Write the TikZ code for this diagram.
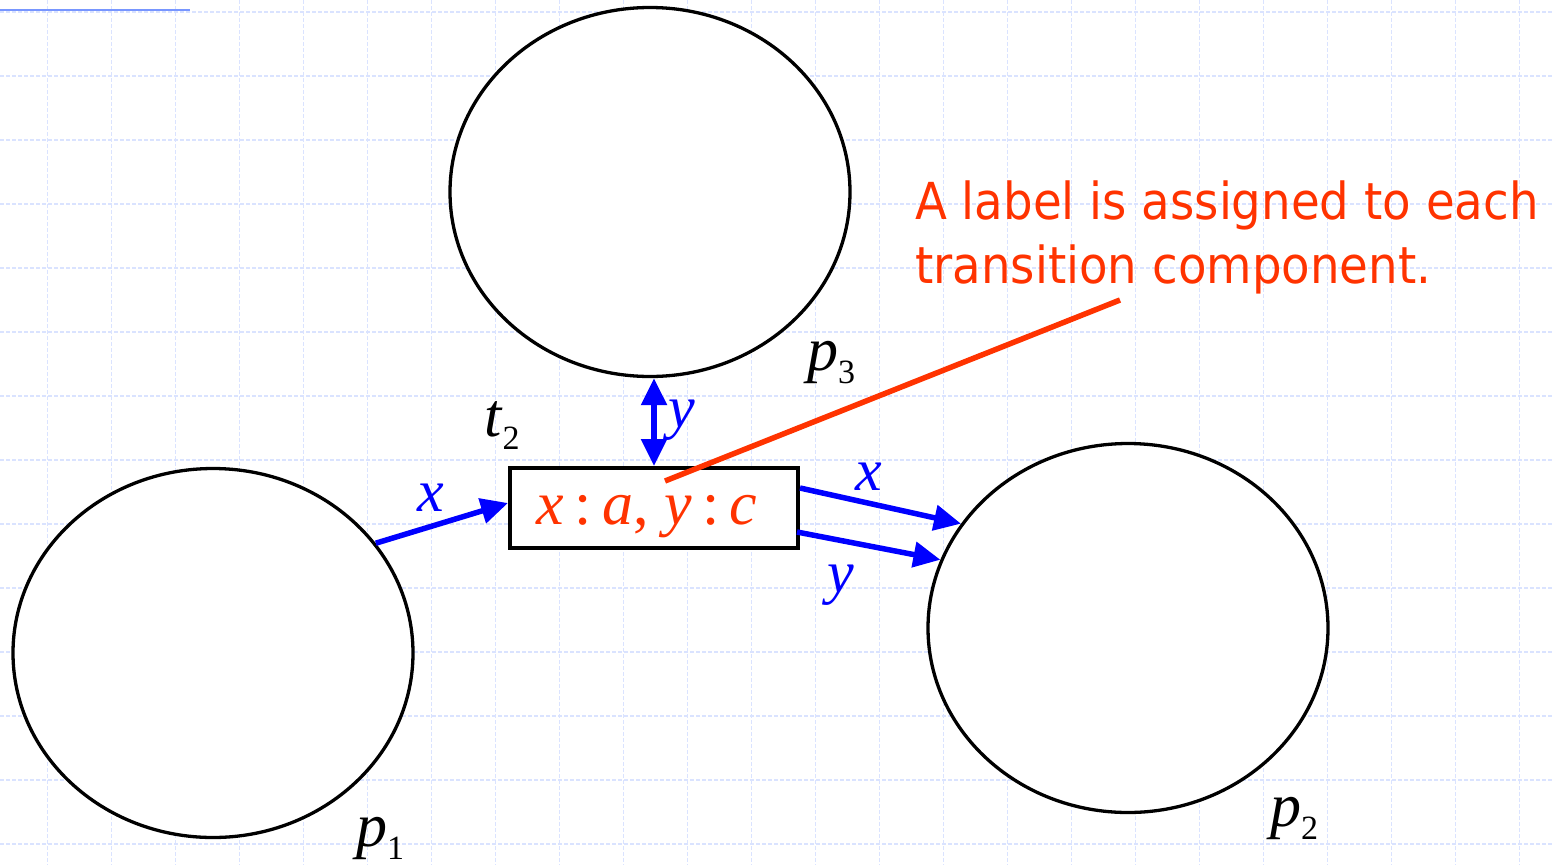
\documentclass[tikz,border=0pt]{standalone}
\usepackage{fontspec}
\setmainfont{Liberation Serif}[ItalicFont={Liberation Serif Italic}]
\newfontfamily\calloutfont[FakeStretch=0.915]{DejaVu Sans}
\usetikzlibrary{arrows.meta,shapes.geometric}
\definecolor{gridblue}{RGB}{218,227,255}
\definecolor{topline}{RGB}{120,150,255}
\definecolor{labred}{RGB}{255,51,0}
\definecolor{arcblue}{RGB}{0,0,255}
\newcommand{\plabel}[2]{\textit{#1}\raisebox{-0.22em}{\fontsize{34}{34}\selectfont #2}}
\tikzset{
  place/.style={draw=black,line width=3.3pt,ellipse,minimum width=400pt,minimum height=369pt,inner sep=0pt,fill=white},
  trans/.style={draw=black,line width=4pt,rectangle,minimum width=288pt,minimum height=80pt,inner sep=0pt,fill=white},
  arc/.style={draw=arcblue,line width=5.5pt,-{Triangle[length=27pt,width=25pt]}},
  dblarc/.style={draw=arcblue,line width=5.5pt,{Triangle[length=27pt,width=25pt]}-{Triangle[length=27pt,width=25pt]}},
  pname/.style={font=\fontsize{62}{62}\selectfont,inner sep=0pt,anchor=base west},
  arclab/.style={font=\fontsize{60}{60}\selectfont\itshape,text=arcblue,inner sep=0pt,anchor=base west},
  callout/.style={font=\calloutfont\fontsize{51}{64}\selectfont,text=labred,inner sep=0pt,anchor=base west,align=left},
  gridline/.style={draw=gridblue,line width=1.3pt,dash pattern=on 4pt off 2pt}
}
\begin{document}
\begin{tikzpicture}[x=1pt,y=-1pt]
\useasboundingbox (0,0) rectangle (1554,865);
% background grid
\foreach \i in {0,...,23} {\draw[gridline] (47.7+64*\i,0) -- (47.7+64*\i,865);}
\foreach \j in {0,...,13} {\draw[gridline] (0,12+64*\j) -- (1554,12+64*\j);}
\draw[topline,line width=2pt] (0,10) -- (190,10);
% places and transition
\node[place] (p3) at (650,192) {};
\node[place] (p1) at (213,653) {};
\node[place] (p2) at (1128,628) {};
\node[trans] (t2) at (654,508) {};
\node[font=\fontsize{62}{62}\selectfont,text=labred,inner sep=0pt,anchor=base] (lab) at (647,524) {\textit{x}\,:\,\textit{a}, \textit{y}\,:\,\textit{c}};
% names
\node[pname] (n3) at (807,370) {\plabel{p}{3}};
\node[pname] (nt) at (484,436) {\plabel{t}{2}};
\node[pname] (n1) at (356,846) {\plabel{p}{1}};
\node[pname] (n2) at (1270,826) {\plabel{p}{2}};
% arcs
\draw[arc] (p1.34) -- ([yshift=5pt]t2.west);
\draw[dblarc] (t2.north |- p3.south) -- (t2.north);
\draw[arc] ([yshift=20pt]t2.east) -- (p2.148);
\draw[arc] ([xshift=-3pt,yshift=-24pt]t2.east) -- (p2.160);
\node[arclab] (lx1) at (417,511) {x};
\node[arclab] (ly1) at (668,427) {y};
\node[arclab] (lx2) at (855,490) {x};
\node[arclab] (ly2) at (827,592) {y};
% callout
\coordinate (cend) at (1120,300);
\draw[draw=labred,line width=5.5pt] ([xshift=11pt,yshift=27pt]t2.center) -- (cend);
\node[callout] (note) at (915,283) {A label is assigned to each\\transition component.};
\end{tikzpicture}
\end{document}
